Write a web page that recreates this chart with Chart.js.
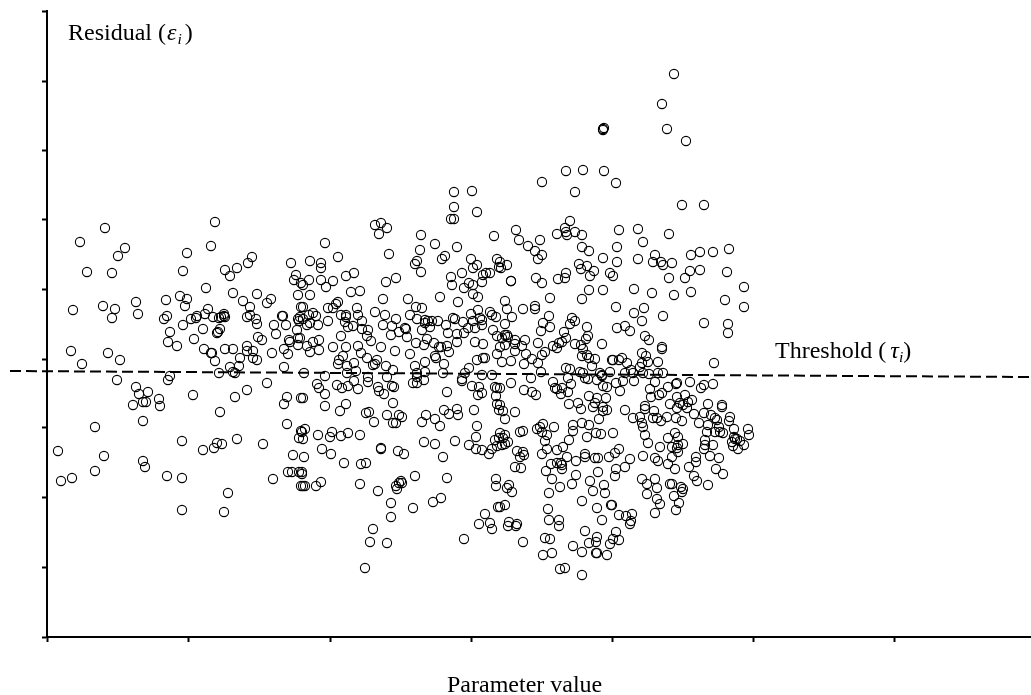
<!DOCTYPE html>
<html lang="en">
<head>
<meta charset="UTF-8">
<title>Residual vs parameter value</title>
<style>
  body { margin: 0; background: #fff; }
  canvas { display: block; }
</style>
</head>
<body>
<script src="https://cdn.jsdelivr.net/npm/chart.js"></script>
<canvas id="myChart" width="1031" height="695"></canvas>
<script>
// values, axis has no printed numbers so units are arbitrary
const xTicks = [0, 141, 283, 424, 565, 706, 847];
const yTicks = [0, 70, 139, 209, 278, 348, 417, 487, 556, 626];
const thresholdX = [-37, 984];
const thresholdY = [266, 260];

const leftTopX = [168,58,33,164,78,140,71,205,201,190,
  244,178,136,183,40,65,249,247,254,159,
  186,210,251,133,140,119,224,220,196,89,
  56,26,68,91,65,138,203,161,158,254,
  120,117,150,149,144,166,172,177,177,174,
  178,203,200,209,210,235,236,251,252,227,
  239,136,123,156,173,171,170,229,250,211,
  215,147,121,242,251];
const leftTopY = [415,409,395,391,389,384,381,380,374,369,
  374,367,366,361,365,364,362,357,354,349,
  344,343,342,341,338,337,338,334,336,335,
  331,327,328,323,319,331,330,328,323,330,
  321,318,321,319,318,320,319,323,321,320,
  320,322,320,318,313,321,321,318,316,312,
  312,312,305,308,308,305,304,303,307,300,
  297,298,295,297,299];

const leftLowX = [24,61,35,73,130,157,164,165,168,178,
  186,200,200,206,193,206,210,225,237,241,
  243,251,237,183,192,186,188,172,123,121,
  70,220,89,101,92,146,200,188,240,237,
  254,112,99,96,86,113,173,96,48,240,
  254,252,190,135,170,175,167,156,216,11,
  57,246,96,98,48,241,245,252,25,14,
  120,135,226,181,135,177,254];
const leftLowY = [286,284,273,277,291,288,284,284,276,288,
  288,291,286,286,279,279,277,284,288,283,
  295,292,270,270,271,265,264,264,261,257,
  257,254,250,245,243,242,247,240,240,233,
  239,238,235,235,232,231,225,216,210,213,
  206,199,198,196,194,193,189,187,193,186,
  181,182,176,170,166,165,165,165,159,156,
  161,159,158,144,127,125,151];

const midTopX = [407,425,407,430,404,407,328,334,340,332,
  374,447,278,388,410,373,342,291,398,395,
  370,368,263,274,274,424,450,430,426,374,
  415,452,443,439,436,307,299,349,404,262,
  274,286,435,422,339,405,426,256,279,417,
  313,304,263,426,431,393,336,361,411,291,
  289,286,281,256,369,375,310,431,328,338,
  363,424,443,311,294,299,266,262,269,445,
  449,253,349,406,370,378,381,385,391,408,
  299,416,433,426,435,281,315,263,256,271,
  260,298,399,336,345,306,435,301,421,428,
  378,383,315,321,375,359,358,352,446,401,
  410,417,344,360,294,320,324,380,428,450,
  410,272,266,369,377,387,436,260,253,286,
  311,299,334,400,392,394,272,263,348,402,
  314,363,388,296,450,320,330,389,430,436,
  292,291,438,328,300,307,339,397,378,368,
  346,257,300,309,396,378,370,418,422,326,
  321,340,278,370,435,445,415];
const midTopY = [445,446,430,425,418,418,412,414,409,403,
  402,401,394,393,390,387,383,380,381,378,
  376,373,376,374,369,378,378,372,369,365,
  364,370,364,364,362,364,361,359,360,357,
  357,356,355,354,355,352,352,352,350,349,
  346,345,342,343,340,340,338,338,335,335,
  333,329,329,330,330,329,329,327,325,322,
  322,323,325,322,322,322,324,322,321,322,
  320,320,318,319,318,317,316,316,316,318,
  320,315,319,316,317,316,316,314,318,312,
  312,315,312,312,311,311,312,310,309,309,
  314,310,308,307,307,308,309,305,307,304,
  303,304,302,300,301,301,296,298,295,301,
  295,297,295,294,292,294,293,291,299,290,
  291,290,290,291,290,290,287,285,286,285,
  284,283,281,281,283,279,277,279,277,279,
  277,273,279,273,271,274,271,273,275,271,
  267,264,264,266,264,265,264,264,269,272,
  260,260,261,260,262,262,258];

const midLowX = [270,272,278,256,290,295,301,311,307,321,
  331,332,337,345,347,346,366,370,377,400,
  415,425,432,435,431,448,450,278,299,293,
  319,322,327,340,352,355,346,349,379,375,
  388,393,397,402,410,411,427,430,429,449,
  450,452,258,255,271,256,285,283,294,301,
  313,275,284,257,297,314,319,334,334,351,
  357,377,388,408,422,429,435,396,442,445,
  448,450,452,255,255,256,258,269,274,313,
  331,368,354,352,349,350,355,400,394,386,
  366,344,344,326,323,340,318,417,438,432,
  443,445,451,449,449];
const midLowY = [253,249,243,239,252,249,251,248,256,255,
  250,246,243,251,250,234,254,254,257,245,
  256,251,250,244,242,250,249,231,233,226,
  224,225,215,222,222,220,214,214,222,215,
  218,211,227,223,228,222,227,211,200,241,
  233,227,208,205,202,198,205,200,201,204,
  202,188,183,180,174,173,174,189,188,186,
  183,195,193,196,192,188,187,180,183,188,
  197,191,199,165,163,151,151,151,155,153,
  146,161,156,154,151,148,154,159,139,135,
  129,134,120,108,95,94,69,98,123,113,
  114,108,130,158,151];

const rightTopX = [627,615,620,639,556,556,557,519,536,557,
  569,495,528,635,657,523,518,519,520,510,
  528,535,469,472,481,493,488,495,491,572,
  591,622,596,570,535,542,608,644,653,666,
  682,556,570,591,606,614,616,625,532,534,
  540,547,543,519,518,511,563,566,622,638,
  643,653,680,460,453,454,489,495,464,464,
  542,556,587,605,627,644,697,697,678,503,
  535,458,460,476,488,488,569,597,587,595,
  616,502,465,525,528,496,523,503,458,540,
  570,578,583,657,681,681,494,517,541,539,
  458,460,461,455,478,468,519,515,512,491,
  598,602,528,534,555,468,458,475,506,510,
  536,615,615,468,453,498,495,479,535,540,
  542,548,595,599,485,575,566,565,572,580,
  601,611,667,464,455,477,491,545,595,593,
  519,523,494,563,533,536,553,578,584,586,
  596,602,611,616,555];
const rightTopY = [563,533,508,496,508,507,509,466,467,466,
  454,455,445,432,432,416,409,405,402,403,
  405,402,407,397,391,397,386,382,378,407,
  408,403,395,390,390,386,382,382,385,385,
  388,379,375,378,375,375,372,374,373,368,
  371,366,361,364,359,358,364,361,359,359,
  366,367,365,372,375,369,359,354,356,356,
  347,347,348,344,342,345,350,330,337,339,
  338,336,328,328,331,328,330,329,324,316,
  321,321,320,319,316,314,313,310,313,310,
  309,311,306,314,313,304,306,305,301,298,
  302,302,300,299,297,297,299,295,294,294,
  301,297,293,292,293,293,292,291,291,289,
  288,290,288,286,290,285,282,283,281,282,
  279,278,284,281,278,279,277,277,277,274,
  275,275,274,276,275,273,274,271,274,270,
  269,268,265,265,265,264,264,264,267,264,
  264,263,264,264,262];

const rightLowX = [484,464,506,521,524,508,510,515,514,521,
  477,485,489,453,538,541,550,555,556,560,
  569,573,576,587,603,608,604,615,612,621,
  629,630,643,657,654,666,542,550,559,522,
  531,534,546,548,556,560,556,578,598,598,
  623,630,638,645,641,633,636,630,640,661,
  675,675,453,456,468,458,552,586,593,607,
  606,610,614,620,629,635,647,657,664,670,
  668,683,682,652,661,672,595,596,535,542,
  526,496,493,490,507,526,495,687,701,702,
  476,473,458,456,453,461,458,455,500,498,
  516,522,540,549,554,566,598,601,621,628,
  631,660,668,673,676,658,658,657,666,687,
  685,688,690,693,686,691,697,625,631,636,
  630,631,613,470,476,477,473,495,500,510,
  538,538,520,529,548,551,562,568,572,583,
  596,608,611,621,625,628,642,649,649,663,
  672,669,676,647,650,661,504,510,514,515,
  515,499,578,569,568,551,529,468,474,505,
  543,525,513,557,546,558,502,595,600,608,
  610,600,610,613,608,623,625,634,636,635,
  627,632,629,462,460,465,458,453,535,564,
  565,550,501,502,512,512,555,572,579,585,
  584,583,462,470,461,469,476,498,503,538,
  550,549,542,526,563,569,572,566,535,549,
  550,560,505,496,513,518,535];
const rightLowY = [259,254,255,259,253,249,248,249,243,245,
  247,245,242,249,259,258,257,261,251,250,
  254,246,256,256,248,255,240,244,242,250,
  253,254,255,252,249,253,241,239,239,233,
  234,228,230,234,226,227,230,227,231,228,
  233,240,242,237,235,234,232,229,229,233,
  232,230,232,226,225,218,218,219,220,226,
  219,219,216,220,219,216,223,224,222,217,
  219,220,216,214,212,210,214,210,214,212,
  212,213,210,208,210,206,205,208,208,202,
  206,205,202,199,204,195,193,192,202,196,
  190,197,200,204,203,204,202,194,199,204,
  200,205,205,205,204,197,192,188,192,200,
  195,198,198,196,191,188,192,190,192,193,
  189,185,190,186,185,182,180,183,188,187,
  183,180,180,176,179,179,180,184,188,178,
  181,179,176,173,180,168,170,180,175,181,
  179,168,163,161,156,152,173,174,174,172,
  168,166,170,168,161,165,162,170,169,158,
  156,153,150,152,146,144,144,158,153,158,
  149,143,138,133,124,153,153,150,148,145,
  141,134,127,152,149,145,132,130,136,132,
  132,129,128,117,117,111,117,122,121,123,
  116,113,115,113,111,111,95,99,98,106,
  100,95,94,91,93,105,97,98,85,84,
  84,82,84,82,68,69,62];

const parameterValues = [leftTopX, leftLowX, midTopX, midLowX, rightTopX, rightLowX];
const residualValues = [leftTopY, leftLowY, midTopY, midLowY, rightTopY, rightLowY];

// glue the small arrays into {x, y} points for the scatter dataset
const points = [];
parameterValues.forEach((xs, g) => {
  xs.forEach((x, i) => points.push({ x: x, y: residualValues[g][i] }));
});
const thresholdPoints = thresholdX.map((x, i) => ({ x: x, y: thresholdY[i] }));

// labels with italic greek and a subscript, drawn in pieces
const serif = '"Liberation Serif", "Times New Roman", serif';
function drawPieces(c, x, y, size, pieces) {
  pieces.forEach(p => {
    x += p.gap || 0;
    c.font = (p.italic ? 'italic ' : '') + (p.sub ? size * 0.65 : size) + 'px ' + serif;
    c.fillText(p.t, x, p.sub ? y + 4 : y);
    x += c.measureText(p.t).width;
  });
}
const labelsPlugin = {
  id: 'labels',
  afterDraw(chart) {
    const c = chart.ctx;
    c.save();
    c.fillStyle = '#000';
    c.textBaseline = 'alphabetic';
    drawPieces(c, 68, 40, 24, [{ t: 'Residual (' }, { t: 'ε', italic: true, gap: 1 }, { t: 'i', italic: true, sub: true, gap: 1 }, { t: ')', gap: 3 }]);
    drawPieces(c, 775, 358, 24, [{ t: 'Threshold (' }, { t: 'τ', italic: true, gap: 4 }, { t: 'i', italic: true, sub: true }, { t: ')' }]);
    drawPieces(c, 447, 692, 24, [{ t: 'Parameter value' }]);
    c.restore();
  }
};

const ctx = document.getElementById('myChart').getContext('2d');
new Chart(ctx, {
  type: 'scatter',
  data: {
    datasets: [{
      label: 'Residual',
      data: points,
      showLine: false,
      pointStyle: 'circle',
      pointRadius: 4.6,
      pointBorderWidth: 1.1,
      pointBorderColor: '#000',
      pointBackgroundColor: 'rgba(0,0,0,0)',
      clip: false
    }, {
      label: 'Threshold',
      data: thresholdPoints,
      showLine: true,
      pointRadius: 0,
      borderColor: '#000',
      borderWidth: 2,
      borderDash: [11, 5],
      clip: false
    }]
  },
  options: {
    responsive: false,
    animation: false,
    layout: { autoPadding: false, padding: { top: 11, right: 0, left: 0, bottom: 0 } },
    plugins: { legend: { display: false }, tooltip: { enabled: false } },
    scales: {
      x: {
        type: 'linear',
        min: 0,
        max: 984,
        afterBuildTicks: s => { s.ticks = xTicks.map(v => ({ value: v })); },
        afterFit: s => { s.height = 58; },
        ticks: { display: false },
        border: { color: '#000', width: 2 },
        grid: { drawOnChartArea: false, tickLength: 5, tickWidth: 2, tickColor: '#000' }
      },
      y: {
        type: 'linear',
        min: 0,
        max: 626,
        afterBuildTicks: s => { s.ticks = yTicks.map(v => ({ value: v })); },
        afterFit: s => { s.width = 47; },
        ticks: { display: false },
        border: { color: '#000', width: 2 },
        grid: { drawOnChartArea: false, tickLength: 5, tickWidth: 2, tickColor: '#000' }
      }
    }
  },
  plugins: [labelsPlugin]
});
</script>
</body>
</html>
